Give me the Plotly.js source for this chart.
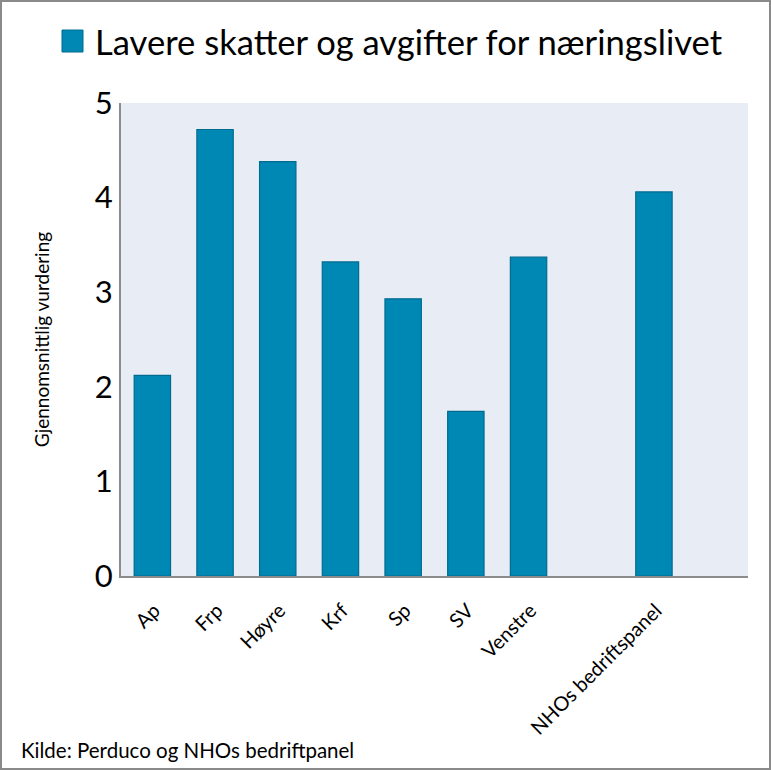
<!DOCTYPE html>
<html>
<head>
<meta charset="utf-8">
<script src="https://cdn.plot.ly/plotly-3.0.1.min.js"></script>
<style>
  html, body { margin: 0; padding: 0; background: #fff; }
  #wrap { position: relative; width: 771px; height: 770px; }
  #plot { position: absolute; left: 0; top: 0; width: 771px; height: 770px; }
  #frame { position: absolute; left: 0; top: 0; width: 771px; height: 770px; box-sizing: border-box; border: 2px solid #8a8a8a; pointer-events: none; }
</style>
</head>
<body>
<div id="wrap"><div id="plot"></div><div id="frame"></div></div>
<script>
// Data
const categories = ["Ap", "Frp", "Høyre", "Krf", "Sp", "SV", "Venstre", " ", "NHOs bedriftspanel", "  "];
const values = [2.12, 4.72, 4.38, 3.32, 2.93, 1.74, 3.37, null, 4.06, null];
const seriesName = "Lavere skatter og avgifter for næringslivet";
const yTitle = "Gjennomsnittlig vurdering";
const sourceText = "Kilde: Perduco og NHOs bedriftpanel";

const barColor = "#0088B5";
const barLine = "#006B90";
const fontFam = "Lato, 'Open Sans', sans-serif";

const trace = {
  type: "bar",
  x: categories,
  y: values,
  name: seriesName,
  marker: { color: barColor, line: { color: barLine, width: 1.2 } },
  showlegend: false,
  hoverinfo: "x+y"
};

const layout = {
  width: 771,
  height: 770,
  margin: { l: 121, r: 23, t: 103, b: 194 },
  paper_bgcolor: "#ffffff",
  plot_bgcolor: "#E8ECF4",
  bargap: 0.42,
  font: { family: fontFam, color: "#000" },
  xaxis: {
    type: "category",
    categoryorder: "array",
    categoryarray: categories,
    tickangle: -45,
    tickfont: { size: 20, family: fontFam, color: "#000" },
    showline: true,
    linecolor: "#8c8c8c",
    linewidth: 2,
    showgrid: false,
    ticks: "",
    ticklabelstandoff: 13,
    ticklabelshift: 2,
    zeroline: false
  },
  yaxis: {
    range: [0, 5],
    dtick: 1,
    tick0: 0,
    showline: true,
    linecolor: "#8c8c8c",
    linewidth: 2,
    showgrid: false,
    zeroline: false,
    ticks: "",
    tickfont: { size: 31, family: fontFam, color: "#000" },
    ticklabelstandoff: 0,
    title: { text: yTitle, font: { size: 19, family: fontFam, color: "#000" }, standoff: 40 }
  },
  shapes: [
    {
      type: "rect", xref: "paper", yref: "paper",
      x0: -0.0941, x1: -0.0606, y0: 1.1078, y1: 1.1543,
      fillcolor: barColor, line: { color: barLine, width: 1 }
    }
  ],
  annotations: [
    {
      xref: "paper", yref: "paper", x: -0.0447, y: 1.131,
      xanchor: "left", yanchor: "middle", showarrow: false,
      text: seriesName,
      font: { size: 34.6, family: fontFam, color: "#000" }
    },
    {
      xref: "paper", yref: "paper", x: -0.163, y: -0.368,
      xanchor: "left", yanchor: "middle", showarrow: false,
      text: sourceText,
      font: { size: 20.5, family: fontFam, color: "#000" }
    }
  ]
};

Plotly.newPlot("plot", [trace], layout, { displayModeBar: false, staticPlot: true });
</script>
</body>
</html>
